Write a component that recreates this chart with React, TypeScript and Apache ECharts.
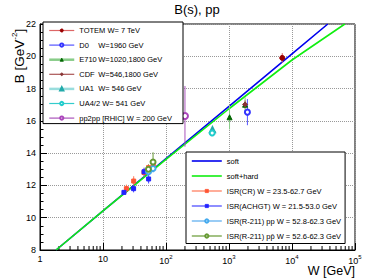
import React, { useEffect, useRef } from 'react';
import * as echarts from 'echarts';

const TITLE = 'B(s), pp';
const FONT = 'Liberation Sans, Arial, sans-serif';

// axis structure
const X_MIN = 1;
const X_MAX = 100000;
const Y_MIN = 8;
const Y_MAX = 22;
const Y_INTERVAL = 2;
const X_DECADES = [0, 1, 2, 3, 4];
const X_MINOR_MULT = [2, 3, 4, 5, 6, 7, 8, 9];

// model curves
const SOFT_W = [1.8, 10, 100, 1000, 10000, 37000];
const SOFT_B = [8.0, 10.43, 13.66, 16.9, 20.15, 22.0];
const HARD_W = [1.8, 10, 100, 1000, 10000, 69000];
const HARD_B = [8.0, 10.42, 13.62, 16.75, 19.77, 22.0];

// measurements
const TOTEM_W = [7000];
const TOTEM_B = [19.9];
const TOTEM_LO = [0.3];
const TOTEM_HI = [0.3];

const D0_W = [1960];
const D0_B = [16.54];
const D0_LO = [0.81];
const D0_HI = [0.81];

const E710_W = [1020, 1800];
const E710_B = [16.22, 17.0];
const E710_LO = [0.75, 0.45];
const E710_HI = [0.75, 0.45];

const CDF_W = [546, 1800];
const CDF_B = [15.35, 17.02];
const CDF_LO = [0.2, 0.25];
const CDF_HI = [0.2, 0.25];

const UA1_W = [546];
const UA1_B = [15.45];
const UA1_LO = [0.25];
const UA1_HI = [0.25];

const UA42_W = [541];
const UA42_B = [15.25];
const UA42_LO = [0.15];
const UA42_HI = [0.15];

const PP2PP_W = [200];
const PP2PP_B = [16.3];
const PP2PP_LO = [1.9];
const PP2PP_HI = [1.86];

const ISRCR_W = [23.5, 30.7, 44.7, 52.8, 62.7];
const ISRCR_B = [11.8, 12.27, 12.8, 13.1, 13.3];
const ISRCR_LO = [0.25, 0.3, 0.25, 0.2, 0.3];
const ISRCR_HI = [0.25, 0.3, 0.25, 0.2, 0.3];

const ACHGT_W = [21.5, 30.6, 44.9, 53.0];
const ACHGT_B = [11.57, 11.8, 12.85, 12.4];
const ACHGT_LO = [0.12, 0.23, 0.25, 0.28];
const ACHGT_HI = [0.12, 0.23, 0.25, 0.28];

const R211PP_W = [52.8, 62.3];
const R211PP_B = [12.85, 13.05];
const R211PP_LO = [0.2, 0.25];
const R211PP_HI = [0.2, 0.25];

const R211PBAR_W = [52.6, 62.3];
const R211PBAR_B = [13.0, 13.45];
const R211PBAR_LO = [0.3, 0.6];
const R211PBAR_HI = [0.3, 0.6];

type DS = {
  name: string;
  label: string;
  w: number[];
  b: number[];
  lo: number[];
  hi: number[];
  symbol: string;
  size: number;
  color: string;
  legendLine: string;
  legendWidth: number;
};

const DATASETS_TOP: DS[] = [
  { name: 'TOTEM', label: 'TOTEM W= 7 TeV', w: TOTEM_W, b: TOTEM_B, lo: TOTEM_LO, hi: TOTEM_HI, symbol: 'circle', size: 5, color: '#990000', legendLine: '#dd6666', legendWidth: 1.2 },
  { name: 'D0', label: '{p|D0}W=1960 GeV', w: D0_W, b: D0_B, lo: D0_LO, hi: D0_HI, symbol: 'emptyCircle', size: 5, color: '#3333ff', legendLine: '#5555ff', legendWidth: 1.2 },
  { name: 'E710', label: '{p|E710}W=1020,1800 GeV', w: E710_W, b: E710_B, lo: E710_LO, hi: E710_HI, symbol: 'triangle', size: 5, color: '#006600', legendLine: '#88cc88', legendWidth: 2.5 },
  { name: 'CDF', label: '{p|CDF}W=546,1800 GeV', w: CDF_W, b: CDF_B, lo: CDF_LO, hi: CDF_HI, symbol: 'diamond', size: 5, color: '#883333', legendLine: '#aa5555', legendWidth: 1.2 },
  { name: 'UA1', label: '{p|UA1}W= 546 GeV', w: UA1_W, b: UA1_B, lo: UA1_LO, hi: UA1_HI, symbol: 'emptyTriangle', size: 5, color: '#22aaaa', legendLine: '#99dddd', legendWidth: 2.5 },
  { name: 'UA4/2', label: 'UA4/2 W= 541 GeV', w: UA42_W, b: UA42_B, lo: UA42_LO, hi: UA42_HI, symbol: 'emptyCircle', size: 5, color: '#22cccc', legendLine: '#33cccc', legendWidth: 1.2 },
  { name: 'pp2pp', label: 'pp2pp [RHIC] W = 200 GeV', w: PP2PP_W, b: PP2PP_B, lo: PP2PP_LO, hi: PP2PP_HI, symbol: 'emptyCircle', size: 6, color: '#aa44bb', legendLine: '#aa55bb', legendWidth: 1.2 },
];

const DATASETS_BOTTOM: DS[] = [
  { name: 'ISRCR', label: 'ISR(CR) W = 23.5-62.7 GeV', w: ISRCR_W, b: ISRCR_B, lo: ISRCR_LO, hi: ISRCR_HI, symbol: 'rect', size: 4, color: '#ff5533', legendLine: '#ff7755', legendWidth: 1.2 },
  { name: 'ACHGT', label: 'ISR(ACHGT) W = 21.5-53.0 GeV', w: ACHGT_W, b: ACHGT_B, lo: ACHGT_LO, hi: ACHGT_HI, symbol: 'rect', size: 4, color: '#2222ff', legendLine: '#4444ff', legendWidth: 1.2 },
  { name: 'R211PP', label: 'ISR(R-211) pp W = 52.8-62.3 GeV', w: R211PP_W, b: R211PP_B, lo: R211PP_LO, hi: R211PP_HI, symbol: 'emptyCircle', size: 5, color: '#44aaee', legendLine: '#55aaee', legendWidth: 1.2 },
  { name: 'R211PBAR', label: 'ISR(R-211) pp\u0304 W = 52.6-62.3 GeV', w: R211PBAR_W, b: R211PBAR_B, lo: R211PBAR_LO, hi: R211PBAR_HI, symbol: 'emptyCircle', size: 5, color: '#669933', legendLine: '#669933', legendWidth: 1.2 },
];

const LABELS: Record<string, string> = { soft: 'soft', 'soft+hard': 'soft+hard' };
[...DATASETS_TOP, ...DATASETS_BOTTOM].forEach((d) => (LABELS[d.name] = d.label));

function buildSeries(): any[] {
  const series: any[] = [];
  series.push({
    type: 'custom',
    name: 'xminor',
    silent: true,
    clip: false,
    data: X_DECADES.flatMap((k) => X_MINOR_MULT.map((m) => [m * Math.pow(10, k), Y_MIN])),
    encode: { x: 0, y: 1 },
    renderItem: (_p: any, api: any) => {
      const pt = api.coord([api.value(0), api.value(1)]);
      return {
        type: 'line',
        shape: { x1: pt[0], y1: pt[1], x2: pt[0], y2: pt[1] - 4 },
        style: { stroke: '#000', lineWidth: 1 },
      };
    },
    z: 1,
  });
  series.push({
    type: 'line',
    name: 'soft',
    data: SOFT_W.map((w, i) => [w, SOFT_B[i]]),
    symbol: 'none',
    lineStyle: { color: '#0000ee', width: 1.6 },
    itemStyle: { color: '#0000ee' },
    z: 3,
  });
  series.push({
    type: 'line',
    name: 'soft+hard',
    data: HARD_W.map((w, i) => [w, HARD_B[i]]),
    symbol: 'none',
    lineStyle: { color: '#11ee11', width: 1.6 },
    itemStyle: { color: '#11ee11' },
    z: 4,
  });
  [...DATASETS_BOTTOM, ...DATASETS_TOP].forEach((d) => {
    series.push({
      type: 'custom',
      name: d.name + '_err',
      silent: true,
      data: d.w.map((w, i) => [w, d.b[i] - d.lo[i], d.b[i] + d.hi[i]]),
      encode: { x: 0, y: [1, 2] },
      renderItem: (_p: any, api: any) => {
        const a = api.coord([api.value(0), api.value(1)]);
        const b = api.coord([api.value(0), api.value(2)]);
        return {
          type: 'line',
          shape: { x1: a[0], y1: a[1], x2: b[0], y2: b[1] },
          style: { stroke: d.legendLine, lineWidth: 1 },
        };
      },
      z: 5,
    });
    series.push({
      type: 'line',
      name: d.name,
      data: d.w.map((w, i) => [w, d.b[i]]),
      symbol: d.symbol,
      symbolSize: d.size,
      showSymbol: true,
      lineStyle: { opacity: 0, width: 0 },
      itemStyle: { color: d.color, borderColor: d.color, borderWidth: 1 },
      z: 6,
    });
  });
  return series;
}

function legendData(list: DS[]) {
  return list.map((d) => ({
    name: d.name,
    lineStyle: { color: d.legendLine, width: d.legendWidth, opacity: 1 },
    itemStyle: { borderWidth: 0.8 },
  }));
}

const legendText = {
  fontFamily: FONT,
  fontSize: 7.5,
  lineHeight: 8,
  color: '#000',
  rich: { p: { width: 19, fontFamily: FONT, fontSize: 7.5, lineHeight: 8, color: '#000' } },
};

export default function App() {
  const ref = useRef<HTMLDivElement>(null);
  useEffect(() => {
    if (!ref.current) return;
    const chart = echarts.init(ref.current, undefined, { renderer: 'svg' });
    const option: any = {
      animation: false,
      backgroundColor: '#fff',
      textStyle: { fontFamily: FONT },
      grid: {
        left: 40,
        right: 16,
        top: 24,
        bottom: 29,
        show: true,
        borderColor: '#000',
        borderWidth: 1,
        backgroundColor: 'transparent',
        containLabel: false,
        outerBoundsMode: 'none',
      },
      xAxis: {
        type: 'log',
        logBase: 10,
        min: X_MIN,
        max: X_MAX,
        splitNumber: 5,
        axisLine: { show: true, lineStyle: { color: '#000', width: 1 } },
        axisTick: { show: true, inside: true, length: 7, lineStyle: { color: '#000' } },
        axisLabel: {
          fontFamily: FONT,
          fontSize: 9,
          color: '#000',
          margin: 4,
          formatter: (v: number) => {
            const e = Math.round(Math.log10(v));
            if (e === 0) return '1';
            if (e === 1) return '10';
            return '10{s|' + e + '}';
          },
          rich: { s: { fontFamily: FONT, fontSize: 6, color: '#000', padding: [0, 0, 7, 0] } },
        },
        splitLine: { show: true, lineStyle: { color: '#999', type: 'dotted', width: 1 } },
      },
      yAxis: {
        type: 'value',
        min: Y_MIN,
        max: Y_MAX,
        interval: Y_INTERVAL,
        axisLine: { show: true, lineStyle: { color: '#000', width: 1 } },
        axisTick: { show: true, inside: true, length: 7, lineStyle: { color: '#000' } },
        minorTick: { show: true, splitNumber: 4, length: 3.5, lineStyle: { color: '#000' } },
        axisLabel: { fontFamily: FONT, fontSize: 9, color: '#000', margin: 4 },
        splitLine: { show: true, lineStyle: { color: '#999', type: 'dotted', width: 1 } },
      },
      legend: [
        {
          data: legendData(DATASETS_TOP),
          left: 43,
          top: 22,
          orient: 'vertical',
          itemWidth: 25,
          itemHeight: 4,
          itemGap: 6.6,
          padding: [4.5, 11, 1.5, 5],
          backgroundColor: '#fff',
          borderColor: '#000',
          borderWidth: 1,
          selectedMode: false,
          formatter: (n: string) => LABELS[n],
          textStyle: legendText,
          z: 10,
        },
        {
          data: [
            { name: 'soft', lineStyle: { color: '#0000ee', width: 1.6, opacity: 1 }, itemStyle: { opacity: 0 } },
            { name: 'soft+hard', lineStyle: { color: '#11ee11', width: 1.6, opacity: 1 }, itemStyle: { opacity: 0 } },
            ...legendData(DATASETS_BOTTOM),
          ],
          left: 186,
          top: 152,
          orient: 'vertical',
          itemWidth: 30,
          itemHeight: 4,
          itemGap: 7,
          padding: [5, 4, 3.5, 5],
          backgroundColor: '#fff',
          borderColor: '#000',
          borderWidth: 1,
          selectedMode: false,
          formatter: (n: string) => LABELS[n],
          textStyle: legendText,
          z: 10,
        },
      ],
      graphic: [
        {
          type: 'text',
          x: 197,
          y: 9,
          style: { text: TITLE, fontFamily: FONT, fontSize: 13, fill: '#000', align: 'center', verticalAlign: 'middle' },
        },
        {
          type: 'text',
          x: 355,
          y: 271,
          style: { text: 'W [GeV]', fontFamily: FONT, fontSize: 12.5, fill: '#000', align: 'right', verticalAlign: 'middle' },
        },
        {
          type: 'text',
          x: 19,
          y: 56,
          rotation: Math.PI / 2,
          style: {
            text: 'B [GeV{s|-2}]',
            fontFamily: FONT,
            fontSize: 13.5,
            fill: '#000',
            align: 'center',
            verticalAlign: 'middle',
            rich: { s: { fontFamily: FONT, fontSize: 8, fill: '#000', padding: [0, 0, 9, 0] } },
          },
        },
      ],
      series: buildSeries(),
    };
    chart.setOption(option);
    return () => chart.dispose();
  }, []);
  return <div ref={ref} style={{ width: 371, height: 279, position: 'absolute', left: 0, top: 0 }} />;
}
